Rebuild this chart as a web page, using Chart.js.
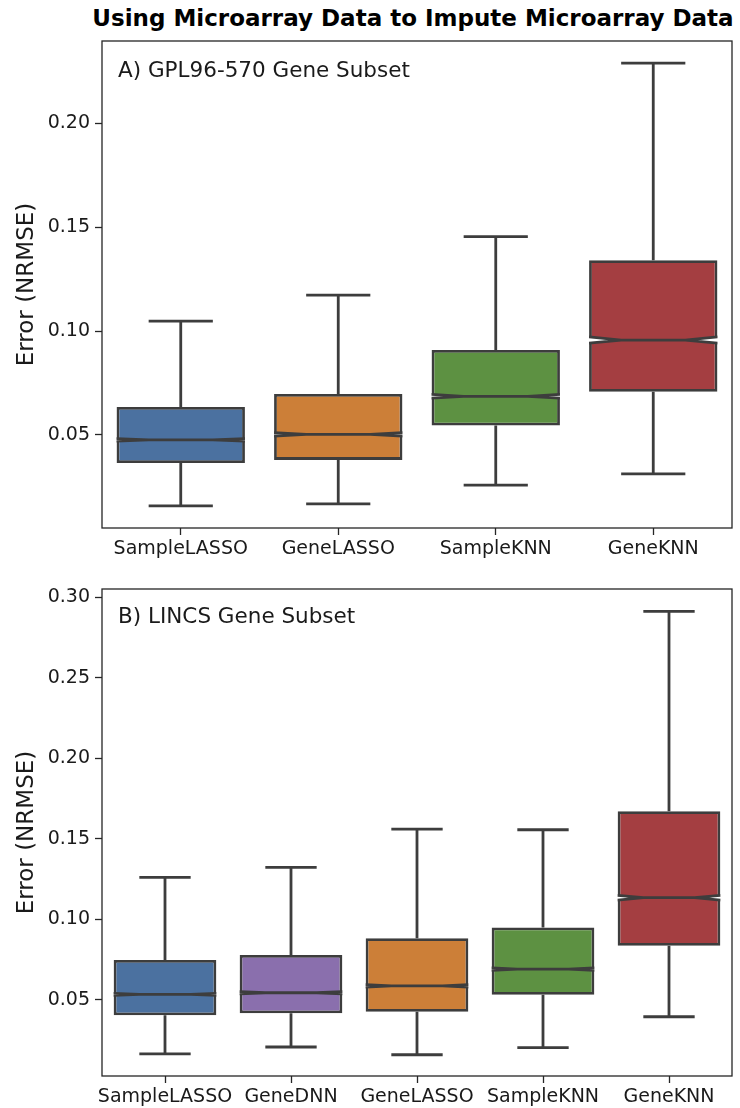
<!DOCTYPE html>
<html>
<head>
<meta charset="utf-8">
<script src="https://cdn.jsdelivr.net/npm/chart.js@4.4.0/dist/chart.umd.min.js"></script>
<style>
  body { margin: 0; background: #fff; width: 740px; height: 1108px; position: relative; overflow: hidden; font-family: 'DejaVu Sans', sans-serif; }
  #title { position: absolute; left: 13px; top: 5px; width: 800px; text-align: center; font-weight: bold; font-size: 23px; color: #000; white-space: nowrap; }
  canvas { position: absolute; left: 0; }
</style>
</head>
<body>
<div id="title">Using Microarray Data to Impute Microarray Data</div>
<canvas id="panelA" width="740" height="560" style="top:0"></canvas>
<canvas id="panelB" width="740" height="548" style="top:560px"></canvas>
<script>
// Panel A - GPL96-570 gene subset
const catsA = ["SampleLASSO", "GeneLASSO", "SampleKNN", "GeneKNN"];
const whiskLoA = [0.0159, 0.0168, 0.0258, 0.0313];
const q1A = [0.0365, 0.0380, 0.0545, 0.0708];
const medA = [0.0476, 0.0503, 0.0686, 0.0957];
const q3A = [0.0635, 0.0697, 0.0909, 0.1341];
const whiskHiA = [0.1048, 0.1173, 0.1455, 0.2290];
const notchA = [0.0006, 0.0008, 0.0009, 0.0015];
const ticksA = [0.05, 0.10, 0.15, 0.20];

// Panel B - LINCS gene subset
const catsB = ["SampleLASSO", "GeneDNN", "GeneLASSO", "SampleKNN", "GeneKNN"];
const whiskLoB = [0.0164, 0.0206, 0.0158, 0.0202, 0.0394];
const q1B = [0.0403, 0.0415, 0.0425, 0.0530, 0.0835];
const medB = [0.0533, 0.0543, 0.0586, 0.0690, 0.1133];
const q3B = [0.0746, 0.0777, 0.0881, 0.0948, 0.1670];
const whiskHiB = [0.1259, 0.1321, 0.1559, 0.1555, 0.2911];
const notchB = [0.0006, 0.0007, 0.0008, 0.0008, 0.0015];
const ticksB = [0.05, 0.10, 0.15, 0.20, 0.25, 0.30];

const BLUE = "#4b71a0", ORANGE = "#cc7f38", GREEN = "#5d9142", RED = "#a43e41", PURPLE = "#8a6fad";
const EDGE = "#3d3d3d";
const INK = "#1a1a1a";
const LW = 2.8;

// whiskers, caps, notches and median, drawn on top of the floating bars
const boxExtras = {
  id: "boxExtras",
  afterDatasetsDraw(chart) {
    const st = chart.options.plugins.boxExtras;
    const ctx = chart.ctx;
    const y = chart.scales.y;
    const meta = chart.getDatasetMeta(0);
    ctx.save();
    ctx.strokeStyle = EDGE;
    ctx.lineWidth = LW;
    ctx.lineCap = "butt";
    meta.data.forEach((bar, i) => {
      const x = bar.x;
      const half = bar.width / 2;
      const left = x - half, right = x + half;
      const capL = x - half / 2, capR = x + half / 2;
      const pHi = y.getPixelForValue(st.hi[i]);
      const pLo = y.getPixelForValue(st.lo[i]);
      const pQ1 = y.getPixelForValue(st.q1[i]);
      const pQ3 = y.getPixelForValue(st.q3[i]);
      const pMed = y.getPixelForValue(st.med[i]);
      const pNu = y.getPixelForValue(st.med[i] + st.notch[i]);
      const pNd = y.getPixelForValue(st.med[i] - st.notch[i]);

      // whiskers + caps
      ctx.beginPath();
      ctx.moveTo(x, pQ3); ctx.lineTo(x, pHi);
      ctx.moveTo(x, pQ1); ctx.lineTo(x, pLo);
      ctx.moveTo(capL, pHi); ctx.lineTo(capR, pHi);
      ctx.moveTo(capL, pLo); ctx.lineTo(capR, pLo);
      ctx.stroke();

      // notch wedges
      ctx.fillStyle = "#ffffff";
      ctx.beginPath();
      ctx.moveTo(left - 1.5, pNd); ctx.lineTo(capL, pMed); ctx.lineTo(left - 1.5, pNu); ctx.closePath();
      ctx.moveTo(right + 1.5, pNd); ctx.lineTo(capR, pMed); ctx.lineTo(right + 1.5, pNu); ctx.closePath();
      ctx.fill();
      ctx.beginPath();
      ctx.moveTo(left, pNd); ctx.lineTo(capL, pMed); ctx.lineTo(left, pNu);
      ctx.moveTo(right, pNd); ctx.lineTo(capR, pMed); ctx.lineTo(right, pNu);
      ctx.moveTo(capL, pMed); ctx.lineTo(capR, pMed);
      ctx.stroke();
    });
    ctx.restore();
  },
  afterDraw(chart) {
    const st = chart.options.plugins.boxExtras;
    const ctx = chart.ctx;
    const a = chart.chartArea;
    ctx.save();
    ctx.strokeStyle = "#262626";
    ctx.lineWidth = 1.3;
    ctx.strokeRect(a.left, a.top, a.right - a.left, a.bottom - a.top);
    ctx.fillStyle = INK;
    ctx.font = "21.5px 'DejaVu Sans'";
    ctx.textBaseline = "alphabetic";
    ctx.fillText(st.label, a.left + 16, a.top + st.labelDy);
    ctx.restore();
  }
};

function makePanel(id, cats, lo, q1, med, q3, hi, notch, colors, yMin, yMax, tickVals, label, labelDy, padTop) {
  return new Chart(document.getElementById(id), {
    type: "bar",
    data: {
      labels: cats,
      datasets: [{
        data: cats.map((c, i) => [q1[i], q3[i]]),
        backgroundColor: colors,
        borderColor: EDGE,
        borderWidth: LW,
        borderSkipped: false,
        barPercentage: 0.815,
        categoryPercentage: 1.0
      }]
    },
    options: {
      responsive: false,
      animation: false,
      devicePixelRatio: 1,
      layout: { padding: { top: padTop, left: 0, right: 8, bottom: 0 } },
      plugins: {
        legend: { display: false },
        tooltip: { enabled: false },
        boxExtras: { lo: lo, q1: q1, med: med, q3: q3, hi: hi, notch: notch, label: label, labelDy: labelDy }
      },
      scales: {
        x: {
          type: "category",
          offset: true,
          grid: { offset: false, drawOnChartArea: false, drawTicks: true, tickLength: 7, tickColor: "#262626", tickWidth: 1.3 },
          border: { display: false },
          ticks: { color: INK, font: { family: "'DejaVu Sans'", size: 19 }, padding: 3, maxRotation: 0, autoSkip: false },
          afterFit: s => { s.height = 32; }
        },
        y: {
          type: "linear",
          min: yMin,
          max: yMax,
          grid: { drawOnChartArea: false, drawTicks: true, tickLength: 7, tickColor: "#262626", tickWidth: 1.3 },
          border: { display: false },
          afterBuildTicks: s => { s.ticks = tickVals.map(v => ({ value: v })); },
          ticks: { color: INK, font: { family: "'DejaVu Sans'", size: 19 }, padding: 5, callback: v => v.toFixed(2) },
          title: { display: true, text: "Error (NRMSE)", color: INK, font: { family: "'DejaVu Sans'", size: 23 }, padding: { top: 13, bottom: 0 } },
          afterFit: s => { s.width = 102; }
        }
      }
    },
    plugins: [boxExtras]
  });
}

makePanel("panelA", catsA, whiskLoA, q1A, medA, q3A, whiskHiA, notchA,
  [BLUE, ORANGE, GREEN, RED], 0.0052, 0.2397, ticksA, "A) GPL96-570 Gene Subset", 36, 41);
makePanel("panelB", catsB, whiskLoB, q1B, medB, q3B, whiskHiB, notchB,
  [BLUE, PURPLE, ORANGE, GREEN, RED], 0.0026, 0.305, ticksB, "B) LINCS Gene Subset", 34, 29);
</script>
</body>
</html>
